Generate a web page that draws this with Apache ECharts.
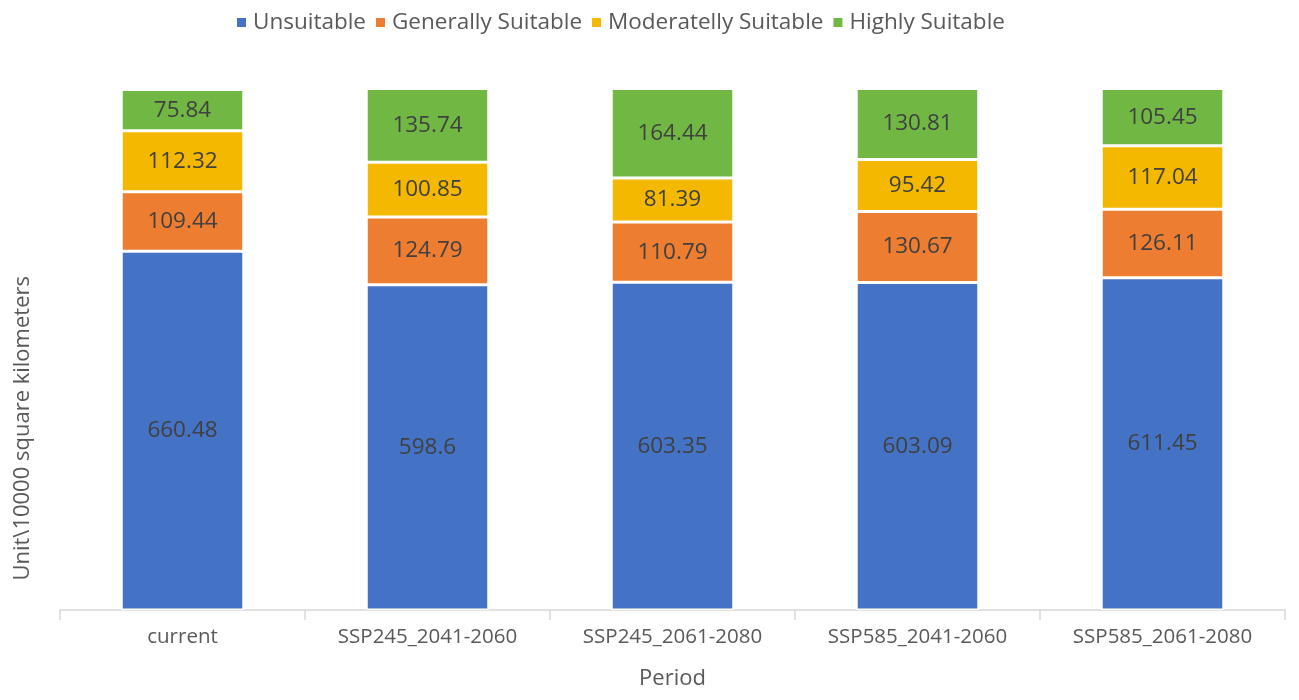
<!DOCTYPE html>
<html>
<head>
<meta charset="utf-8">
<script src="https://cdn.jsdelivr.net/npm/echarts@6/dist/echarts.min.js"></script>
<style>html,body{margin:0;padding:0;background:#fff}#c{width:1299px;height:700px}</style>
</head>
<body>
<div id="c"></div>
<script>
const categories = ['current', 'SSP245_2041-2060', 'SSP245_2061-2080', 'SSP585_2041-2060', 'SSP585_2061-2080'];
const unsuitable = [660.48, 598.6, 603.35, 603.09, 611.45];
const generallySuitable = [109.44, 124.79, 110.79, 130.67, 126.11];
const moderatelySuitable = [112.32, 100.85, 81.39, 95.42, 117.04];
const highlySuitable = [75.84, 135.74, 164.44, 130.81, 105.45];
const seriesNames = ['Unsuitable', 'Generally Suitable', 'Moderatelly Suitable', 'Highly Suitable'];
const colors = ['#4472C4', '#ED7D31', '#F5B800', '#70B843'];
const FONT = 'Open Sans';

const chart = echarts.init(document.getElementById('c'));
const mk = (name, data, color) => ({
  name, type: 'bar', stack: 'total', data, barWidth: '50%',
  itemStyle: { color, borderColor: '#fff', borderWidth: 1.5 },
  label: { show: true, position: 'inside', color: '#404040', fontSize: 22.5, fontFamily: FONT },
  emphasis: { disabled: true }
});
chart.setOption({
  animation: false,
  color: colors,
  legend: {
    top: 6, left: 230, itemWidth: 11, itemHeight: 11, itemGap: 8,
    icon: 'rect',
    textStyle: { fontSize: 22.5, color: '#595959', fontFamily: FONT, padding: [0, 0, 0, 1] },
    data: seriesNames
  },
  grid: { left: 60, right: 14, top: 88, bottom: 90 },
  xAxis: {
    type: 'category', data: categories,
    axisLine: { lineStyle: { color: '#d9d9d9', width: 1.5 } },
    axisTick: { show: true, length: 10, lineStyle: { color: '#d9d9d9', width: 1.5 } },
    axisLabel: { fontSize: 20.5, color: '#595959', fontFamily: FONT, margin: 17 },
    name: 'Period', nameLocation: 'middle', nameGap: 58,
    nameTextStyle: { fontSize: 22, color: '#595959', fontFamily: FONT }
  },
  yAxis: {
    type: 'value', min: 0, max: 961,
    axisLine: { show: false }, axisTick: { show: false },
    axisLabel: { show: false }, splitLine: { show: false }
  },
  graphic: [{
    type: 'text', left: 12, top: 276, rotation: Math.PI / 2,
    style: { text: 'Unit\\10000 square kilometers', fontSize: 22, fill: '#595959', fontFamily: FONT }
  }],
  series: [
    mk(seriesNames[0], unsuitable, colors[0]),
    mk(seriesNames[1], generallySuitable, colors[1]),
    mk(seriesNames[2], moderatelySuitable, colors[2]),
    mk(seriesNames[3], highlySuitable, colors[3])
  ]
});
</script>
</body>
</html>
